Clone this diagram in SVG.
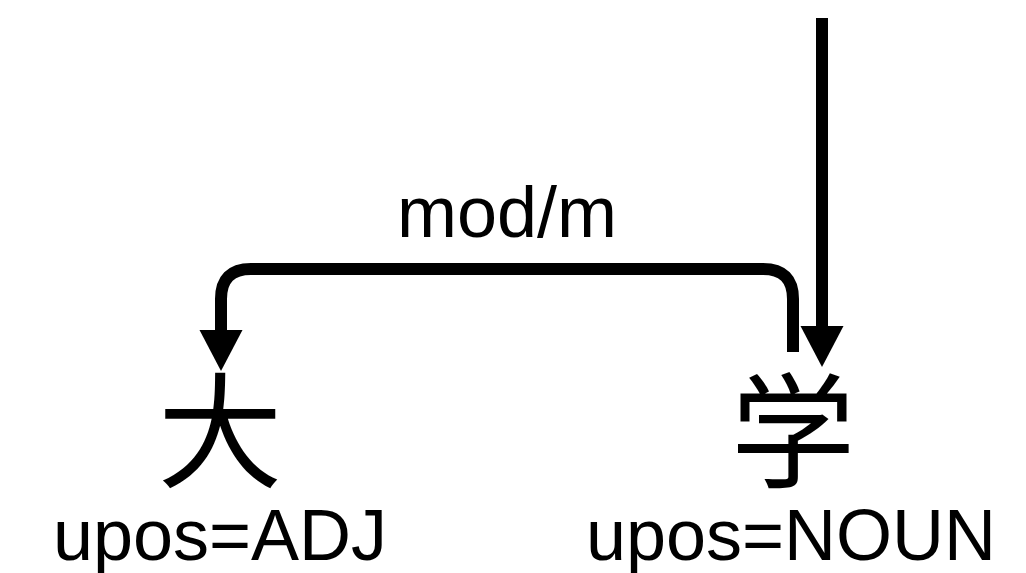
<svg xmlns="http://www.w3.org/2000/svg" width="1026" height="573" viewBox="0 0 1026 573">
  <style>
    .edge { fill: none; stroke: #000; stroke-width: 12; }
    .word { font-family: "Noto Sans CJK JP", "Noto Sans CJK SC", sans-serif; font-size: 125px; fill: #000; text-anchor: middle; }
    .tag { font-family: "Liberation Sans", Arial, sans-serif; font-size: 72px; fill: #000; text-anchor: middle; }
  </style>
  <defs>
    <marker id="head" markerUnits="userSpaceOnUse" markerWidth="44" markerHeight="44" viewBox="0 -22 42 44" refX="0" refY="0" orient="auto">
      <path d="M0,-21.5 L41,0 L0,21.5 Z" fill="#000"/>
    </marker>
  </defs>

  <g id="connectors">
    <!-- root edge into 学 -->
    <path id="root" class="edge" d="M822,18 V326" marker-end="url(#head)"/>
    <!-- mod/m edge from 学 to 大 -->
    <path id="mod" class="edge" d="M793,352 V299 Q793,269 763,269 H251 Q221,269 221,299 V330" marker-end="url(#head)"/>
    <text class="tag" x="507" y="237">mod/m</text>
  </g>

  <g id="node-da">
    <text class="word" x="220" y="478">大</text>
    <text class="tag" x="220" y="560">upos=ADJ</text>
  </g>

  <g id="node-xue">
    <text class="word" x="793" y="478">学</text>
    <text class="tag" x="791" y="560">upos=NOUN</text>
  </g>
</svg>
